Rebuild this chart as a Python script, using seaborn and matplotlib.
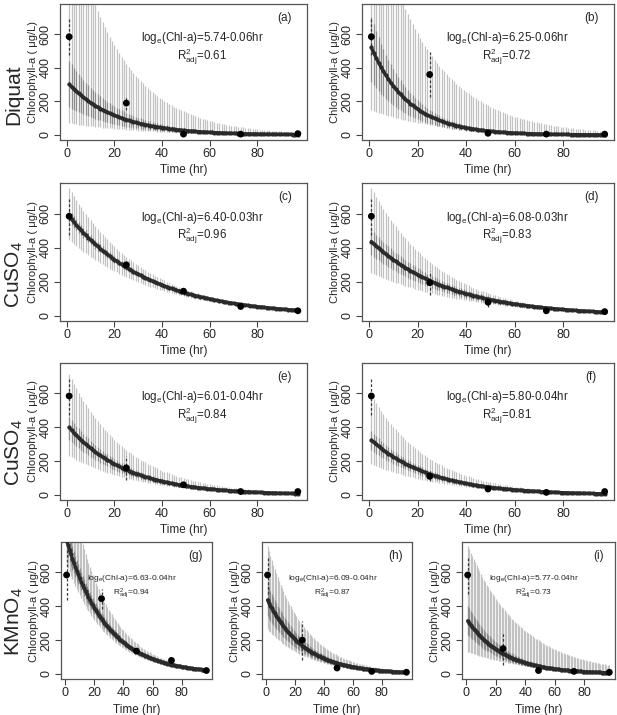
import numpy as np
import seaborn as sns
import matplotlib.pyplot as plt

# ----------------------------------------
# Style
# ----------------------------------------
sns.set_style("white")
plt.rcParams["font.family"] = ["Liberation Sans", "DejaVu Sans"]
plt.rcParams["mathtext.fontset"] = "custom"
plt.rcParams["mathtext.rm"] = "Liberation Sans"
plt.rcParams["mathtext.it"] = "Liberation Sans:italic"

# ----------------------------------------
# Data
# ----------------------------------------
panel_tags = ["(a)", "(b)", "(c)", "(d)", "(e)", "(f)", "(g)", "(h)", "(i)"]
row_names = ["Diquat", "CuSO$_4$", "CuSO$_4$", "KMnO$_4$"]

obs_hours = [1, 25, 49, 73, 97]
obs_means = [
    [585, 190, 5, 5, 8],
    [585, 360, 10, 5, 5],
    [585, 300, 145, 55, 30],
    [585, 195, 80, 30, 25],
    [585, 160, 60, 20, 20],
    [585, 110, 35, 15, 20],
    [585, 445, 135, 80, 20],
    [585, 200, 35, 15, 10],
    [585, 150, 20, 15, 10],
]
obs_err = [
    [110, 42, 0, 0, 0],
    [110, 135, 0, 0, 0],
    [110, 25, 20, 0, 0],
    [110, 70, 25, 0, 0],
    [110, 70, 15, 0, 0],
    [110, 30, 0, 0, 0],
    [150, 60, 0, 0, 0],
    [110, 115, 0, 0, 0],
    [110, 100, 0, 0, 0],
]

fit_text = ["5.74-0.06hr", "6.25-0.06hr", "6.40-0.03hr", "6.08-0.03hr", "6.01-0.04hr",
            "5.80-0.04hr", "6.63-0.04hr", "6.09-0.04hr", "5.77-0.04hr"]
r2_text = ["0.61", "0.72", "0.96", "0.83", "0.84", "0.81", "0.94", "0.87", "0.73"]

# fitted curve (log-linear) as drawn
curve_int = [5.76, 6.32, 6.40, 6.11, 6.03, 5.82, 6.71, 6.12, 5.79]
curve_slope = [0.050, 0.064, 0.030, 0.031, 0.041, 0.040, 0.037, 0.040, 0.040]
# outer (light) interval, log-linear bounds
upper_int = [7.20, 7.26, 6.65, 6.66, 6.61, 6.42, 7.11, 6.67, 6.66]
upper_slope = [0.046, 0.0427, 0.032, 0.036, 0.041, 0.042, 0.039, 0.040, 0.028]
lower_int = [4.30, 5.04, 6.13, 5.56, 5.48, 5.25, 6.51, 5.62, 4.90]
lower_slope = [0.034, 0.037, 0.028, 0.026, 0.035, 0.034, 0.037, 0.036, 0.0246]
# inner (dark) interval half widths in log units
inner_up = [0.38, 0.30, 0.06, 0.15, 0.15, 0.15, 0.10, 0.20, 0.25]
inner_low = [0.60, 0.50, 0.06, 0.20, 0.20, 0.20, 0.10, 0.25, 0.30]

hours = np.arange(1, 98)

# ----------------------------------------
# Layout (pixel boxes: left, top, right, bottom)
# ----------------------------------------
W, H = 617, 715
boxes = [
    (60, 4, 307, 140), (362, 4, 614, 140),
    (60, 183, 307, 321), (362, 183, 614, 321),
    (60, 363, 307, 500), (362, 363, 614, 500),
    (61, 542, 212, 679), (262, 542, 412, 679), (462, 542, 615, 679),
]
row_label_y = [95, 275, 453, 621]

fig = plt.figure(figsize=(W / 100, H / 100), dpi=100)

for i, tag in enumerate(panel_tags):
    l, t, r, b = boxes[i]
    ax = fig.add_axes([l / W, 1 - b / H, (r - l) / W, (b - t) / H])
    small = i >= 6

    center = np.exp(curve_int[i] - curve_slope[i] * hours)
    hi = np.exp(upper_int[i] - upper_slope[i] * hours)
    lo = np.exp(lower_int[i] - lower_slope[i] * hours)

    # light outer band and darker inner band, one bar per hour
    ax.vlines(hours, lo, hi, color="#c2c2c2", lw=0.9, zorder=1)
    ax.vlines(hours, center * np.exp(-inner_low[i]), center * np.exp(inner_up[i]),
              color="#8c8c8c", lw=0.9, zorder=2)

    m = np.array(obs_means[i])
    e = np.array(obs_err[i])
    ax.vlines(obs_hours, m - e, m + e, color="#3a3a3a", lw=0.9,
              linestyles=(0, (2.2, 1.6)), zorder=3)

    sns.lineplot(x=hours, y=center, ax=ax, color="#2a2a2a", linewidth=2.3,
                 marker="o", markersize=3, markeredgewidth=0, zorder=4)
    sns.scatterplot(x=obs_hours, y=obs_means[i], ax=ax, color="black", s=24,
                    edgecolor="none", zorder=5)

    ax.set_xlim(-2.84, 100.84)
    ax.set_ylim(-30, 780)
    ax.set_xticks([0, 20, 40, 60, 80])
    ax.set_yticks([0, 200, 400, 600])
    ax.tick_params(direction="out", length=4, width=0.8, color="#444",
                   labelsize=9, pad=2, left=True, bottom=True)
    for lab in ax.get_yticklabels():
        lab.set_rotation(90)
        lab.set_va("center")
    for sp in ax.spines.values():
        sp.set_color("#555")
        sp.set_linewidth(0.9)

    ax.set_xlabel("Time (hr)", fontsize=8.5, labelpad=3)
    ax.set_ylabel("Chlorophyll-a ( μg/L)", fontsize=8, labelpad=1)

    fs = 6 if small else 8.3
    tx = 0.47 if small else 0.575
    ax.text(tx, 0.75 if not small else 0.735, r"log$_\mathregular{e}$(Chl-a)=" + fit_text[i],
            transform=ax.transAxes, ha="center", va="center", fontsize=fs)
    ax.text(tx, 0.615 if not small else 0.63,
            r"R$^\mathregular{2}_\mathregular{adj}$=" + r2_text[i],
            transform=ax.transAxes, ha="center", va="center", fontsize=fs)
    ax.text(0.91 if not small else 0.89, 0.90, tag, transform=ax.transAxes,
            ha="center", va="center", fontsize=8.5)

for name, yc in zip(row_names, row_label_y):
    fig.text(14 / W, 1 - yc / H, name, rotation=90, ha="center", va="center",
             fontsize=15)

fig.savefig("out.png", dpi=100)
